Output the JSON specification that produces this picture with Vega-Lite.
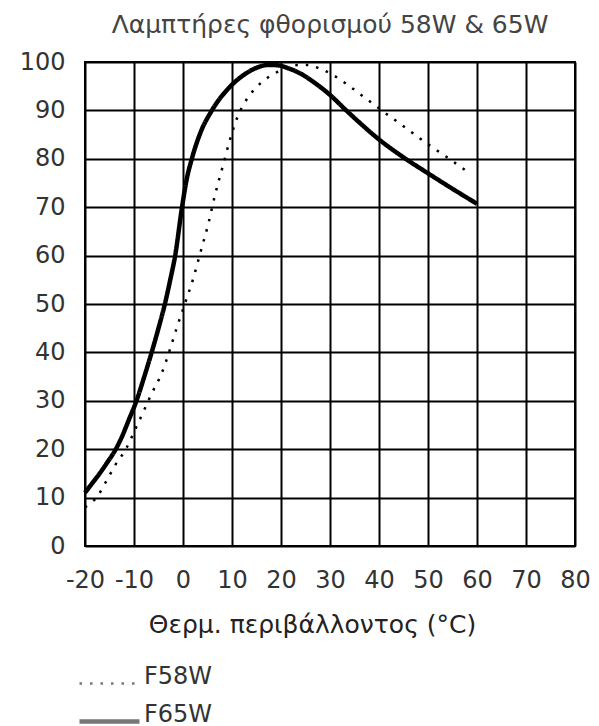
{
  "$schema": "https://vega.github.io/schema/vega-lite/v6.json",
  "width": 490,
  "height": 484,
  "autosize": {"type": "none"},
  "padding": {"left": 85, "top": 62, "right": 24, "bottom": 180},
  "background": "white",
  "title": {
    "text": "Λαμπτήρες φθορισμού 58W & 65W",
    "font": "DejaVu Sans",
    "fontSize": 25,
    "fontWeight": "normal",
    "color": "#444",
    "anchor": "middle",
    "offset": 12
  },
  "config": {
    "view": {"stroke": "black", "strokeWidth": 2},
    "font": "DejaVu Sans",
    "axis": {
      "grid": true,
      "gridColor": "black",
      "gridWidth": 2,
      "gridOpacity": 1,
      "domain": false,
      "ticks": false,
      "labelOverlap": false,
      "labelFlush": false,
      "labelFont": "DejaVu Sans",
      "labelFontSize": 24,
      "labelColor": "#333",
      "titleFont": "DejaVu Sans",
      "titleFontSize": 25,
      "titleFontWeight": "normal",
      "titleColor": "#222"
    }
  },
  "data": {
    "values": [
      {"lamp": "F58W", "t": -20, "flux": 8},
      {"lamp": "F58W", "t": -17.3, "flux": 10.5},
      {"lamp": "F58W", "t": -15.6, "flux": 13.5},
      {"lamp": "F58W", "t": -13.9, "flux": 16.6},
      {"lamp": "F58W", "t": -11.5, "flux": 20.3},
      {"lamp": "F58W", "t": -9.8, "flux": 24},
      {"lamp": "F58W", "t": -8.1, "flux": 27.7},
      {"lamp": "F58W", "t": -6.4, "flux": 31.5},
      {"lamp": "F58W", "t": -4.3, "flux": 35.8},
      {"lamp": "F58W", "t": -2.7, "flux": 40.5},
      {"lamp": "F58W", "t": -1.3, "flux": 45},
      {"lamp": "F58W", "t": 0.4, "flux": 50.1},
      {"lamp": "F58W", "t": 2.1, "flux": 55.3},
      {"lamp": "F58W", "t": 3.6, "flux": 60.8},
      {"lamp": "F58W", "t": 5.2, "flux": 66.7},
      {"lamp": "F58W", "t": 6.6, "flux": 72.8},
      {"lamp": "F58W", "t": 8.1, "flux": 78.4},
      {"lamp": "F58W", "t": 9.6, "flux": 84},
      {"lamp": "F58W", "t": 11.1, "flux": 88.6},
      {"lamp": "F58W", "t": 13, "flux": 92.3},
      {"lamp": "F58W", "t": 15, "flux": 94.8},
      {"lamp": "F58W", "t": 17.2, "flux": 96.7},
      {"lamp": "F58W", "t": 19.8, "flux": 98.2},
      {"lamp": "F58W", "t": 22.5, "flux": 99.3},
      {"lamp": "F58W", "t": 25.2, "flux": 99.4},
      {"lamp": "F58W", "t": 28, "flux": 98.6},
      {"lamp": "F58W", "t": 30.5, "flux": 97.4},
      {"lamp": "F58W", "t": 33.7, "flux": 95.2},
      {"lamp": "F58W", "t": 37.8, "flux": 92.1},
      {"lamp": "F58W", "t": 41.9, "flux": 89},
      {"lamp": "F58W", "t": 46, "flux": 86},
      {"lamp": "F58W", "t": 50, "flux": 83},
      {"lamp": "F58W", "t": 54.2, "flux": 80.1},
      {"lamp": "F58W", "t": 58.5, "flux": 77},
      {"lamp": "F65W", "t": -20, "flux": 11},
      {"lamp": "F65W", "t": -18.5, "flux": 13},
      {"lamp": "F65W", "t": -17, "flux": 15},
      {"lamp": "F65W", "t": -15.5, "flux": 17.2},
      {"lamp": "F65W", "t": -14, "flux": 19.5},
      {"lamp": "F65W", "t": -12.5, "flux": 22.5},
      {"lamp": "F65W", "t": -11, "flux": 26.2},
      {"lamp": "F65W", "t": -9.5, "flux": 30},
      {"lamp": "F65W", "t": -7.9, "flux": 35},
      {"lamp": "F65W", "t": -6.4, "flux": 40},
      {"lamp": "F65W", "t": -5, "flux": 45},
      {"lamp": "F65W", "t": -3.7, "flux": 50},
      {"lamp": "F65W", "t": -2.6, "flux": 55},
      {"lamp": "F65W", "t": -1.6, "flux": 60},
      {"lamp": "F65W", "t": -0.2, "flux": 70},
      {"lamp": "F65W", "t": 0.7, "flux": 75.5},
      {"lamp": "F65W", "t": 1.8, "flux": 80},
      {"lamp": "F65W", "t": 3.6, "flux": 85.5},
      {"lamp": "F65W", "t": 5.9, "flux": 90},
      {"lamp": "F65W", "t": 9.7, "flux": 95},
      {"lamp": "F65W", "t": 12.5, "flux": 97.4},
      {"lamp": "F65W", "t": 15, "flux": 98.8},
      {"lamp": "F65W", "t": 17.5, "flux": 99.4},
      {"lamp": "F65W", "t": 19.5, "flux": 99.3},
      {"lamp": "F65W", "t": 21.5, "flux": 98.7},
      {"lamp": "F65W", "t": 24, "flux": 97.6},
      {"lamp": "F65W", "t": 27, "flux": 95.6},
      {"lamp": "F65W", "t": 30, "flux": 93.2},
      {"lamp": "F65W", "t": 33, "flux": 90.3},
      {"lamp": "F65W", "t": 36, "flux": 87.5},
      {"lamp": "F65W", "t": 40, "flux": 84},
      {"lamp": "F65W", "t": 45, "flux": 80.3},
      {"lamp": "F65W", "t": 50, "flux": 77},
      {"lamp": "F65W", "t": 55, "flux": 73.8},
      {"lamp": "F65W", "t": 60, "flux": 70.7}
    ]
  },
  "mark": {"type": "line", "interpolate": "monotone", "color": "black", "strokeCap": "butt"},
  "encoding": {
    "x": {
      "field": "t",
      "type": "quantitative",
      "scale": {"domain": [-20, 80], "nice": false},
      "axis": {
        "values": [-20, -10, 0, 10, 20, 30, 40, 50, 60, 70, 80],
        "labelExpr": "datum.value + ''",
        "labelPadding": 22,
        "title": "Θερμ. περιβάλλοντος (°C)",
        "titleX": 227,
        "titleY": 78,
        "titleAnchor": "middle",
        "titleAlign": "center",
        "titleBaseline": "middle"
      }
    },
    "y": {
      "field": "flux",
      "type": "quantitative",
      "scale": {"domain": [0, 100], "nice": false},
      "axis": {
        "values": [0, 10, 20, 30, 40, 50, 60, 70, 80, 90, 100],
        "labelPadding": 20,
        "title": null
      }
    },
    "strokeDash": {
      "field": "lamp",
      "type": "nominal",
      "scale": {"domain": ["F58W", "F65W"], "range": [[2.5, 8], [1, 0]]},
      "legend": {
        "title": null,
        "orient": "none",
        "legendX": -8,
        "legendY": 590,
        "symbolType": "stroke",
        "symbolSize": 3600,
        "symbolStrokeColor": "#777",
        "rowPadding": -12,
        "labelOffset": 2,
        "labelBaseline": "alphabetic",
        "labelFontSize": 24,
        "labelColor": "#333",
        "labelFont": "DejaVu Sans"
      }
    },
    "strokeWidth": {
      "field": "lamp",
      "type": "nominal",
      "scale": {"domain": ["F58W", "F65W"], "range": [2.5, 4.5]},
      "legend": {
        "title": null,
        "orient": "none",
        "legendX": -8,
        "legendY": 590,
        "symbolType": "stroke",
        "symbolSize": 3600,
        "symbolStrokeColor": "#777",
        "rowPadding": -12,
        "labelOffset": 2,
        "labelBaseline": "alphabetic",
        "labelFontSize": 24,
        "labelColor": "#333",
        "labelFont": "DejaVu Sans"
      }
    }
  }
}
